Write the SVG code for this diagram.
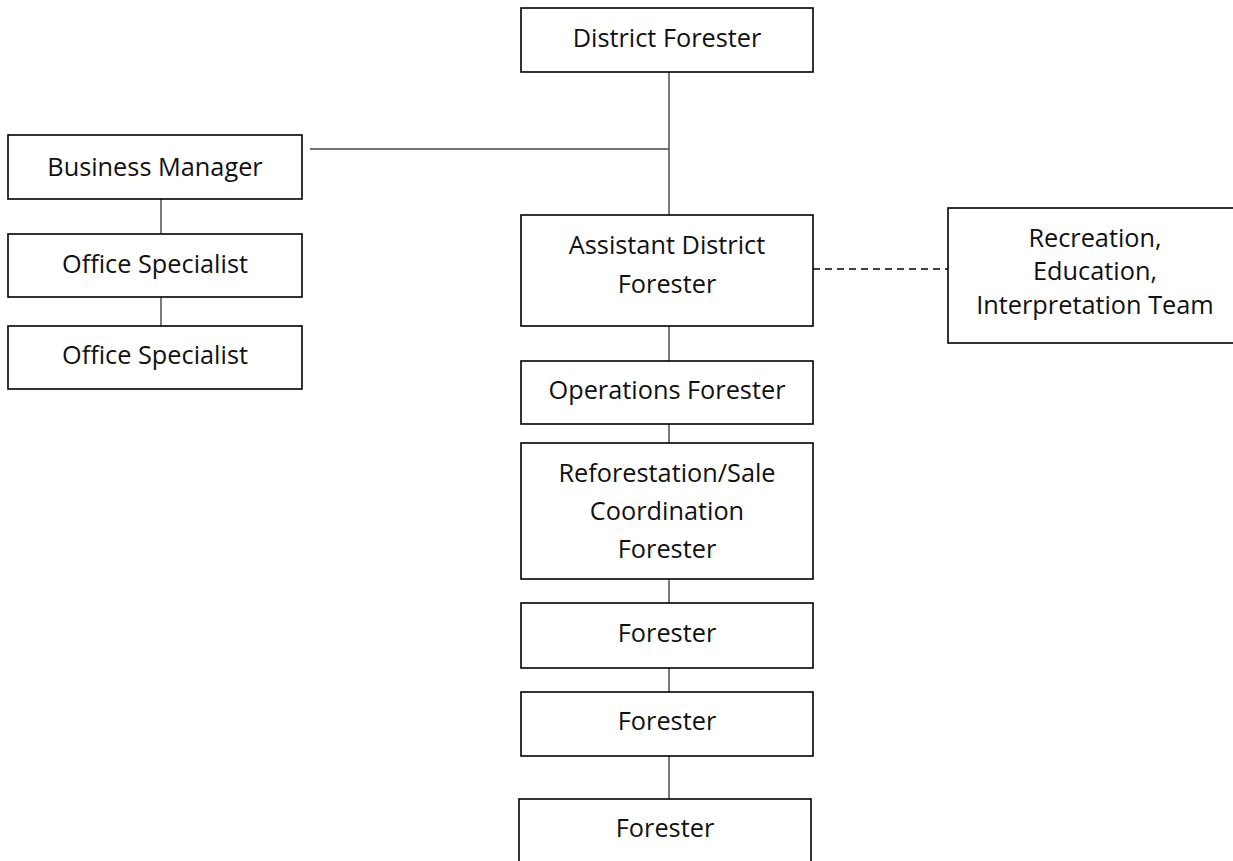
<svg xmlns="http://www.w3.org/2000/svg" width="1233" height="861" viewBox="0 0 1233 861">
<style>
.box{fill:#fff;stroke:#000;stroke-width:1.6}
.t{font-family:"Open Sans","Liberation Sans",sans-serif;font-size:25.3px;fill:#111;text-anchor:middle}
.c{stroke:#444;stroke-width:1.4;fill:none}
.d{stroke:#000;stroke-width:1.4;fill:none;stroke-dasharray:7 5}
</style>
<rect width="1233" height="861" fill="#fff"/>
<g id="connectors">
<line class="c" x1="669" y1="72" x2="669" y2="215"/>
<line class="c" x1="310" y1="149" x2="669" y2="149"/>
<line class="c" x1="161" y1="199" x2="161" y2="234"/>
<line class="c" x1="161" y1="297" x2="161" y2="326"/>
<line class="c" x1="669" y1="326" x2="669" y2="361"/>
<line class="c" x1="669" y1="424" x2="669" y2="443"/>
<line class="c" x1="669" y1="579" x2="669" y2="603"/>
<line class="c" x1="669" y1="668" x2="669" y2="692"/>
<line class="c" x1="669" y1="756" x2="669" y2="799"/>
<line class="d" x1="813" y1="269" x2="948" y2="269"/>
</g>
<g id="district-forester">
<rect class="box" x="521" y="8" width="292" height="64"/>
<text class="t" x="667" y="47">District Forester</text>
</g>
<g id="business-manager">
<rect class="box" x="8" y="135" width="294" height="64"/>
<text class="t" x="155" y="176">Business Manager</text>
</g>
<g id="office-specialist-1">
<rect class="box" x="8" y="234" width="294" height="63"/>
<text class="t" x="155" y="273">Office Specialist</text>
</g>
<g id="office-specialist-2">
<rect class="box" x="8" y="326" width="294" height="63"/>
<text class="t" x="155" y="364">Office Specialist</text>
</g>
<g id="assistant-district-forester">
<rect class="box" x="521" y="215" width="292" height="111"/>
<text class="t" x="667" y="254">Assistant District</text>
<text class="t" x="667" y="293">Forester</text>
</g>
<g id="recreation-team">
<rect class="box" x="948" y="208" width="300" height="135"/>
<text class="t" x="1095" y="247">Recreation,</text>
<text class="t" x="1095" y="280">Education,</text>
<text class="t" x="1095" y="314">Interpretation Team</text>
</g>
<g id="operations-forester">
<rect class="box" x="521" y="361" width="292" height="63"/>
<text class="t" x="667" y="399">Operations Forester</text>
</g>
<g id="reforestation-forester">
<rect class="box" x="521" y="443" width="292" height="136"/>
<text class="t" x="667" y="482">Reforestation/Sale</text>
<text class="t" x="667" y="520">Coordination</text>
<text class="t" x="667" y="558">Forester</text>
</g>
<g id="forester-1">
<rect class="box" x="521" y="603" width="292" height="65"/>
<text class="t" x="667" y="642">Forester</text>
</g>
<g id="forester-2">
<rect class="box" x="521" y="692" width="292" height="64"/>
<text class="t" x="667" y="730">Forester</text>
</g>
<g id="forester-3">
<rect class="box" x="519" y="799" width="292" height="80"/>
<text class="t" x="665" y="837">Forester</text>
</g>
</svg>
